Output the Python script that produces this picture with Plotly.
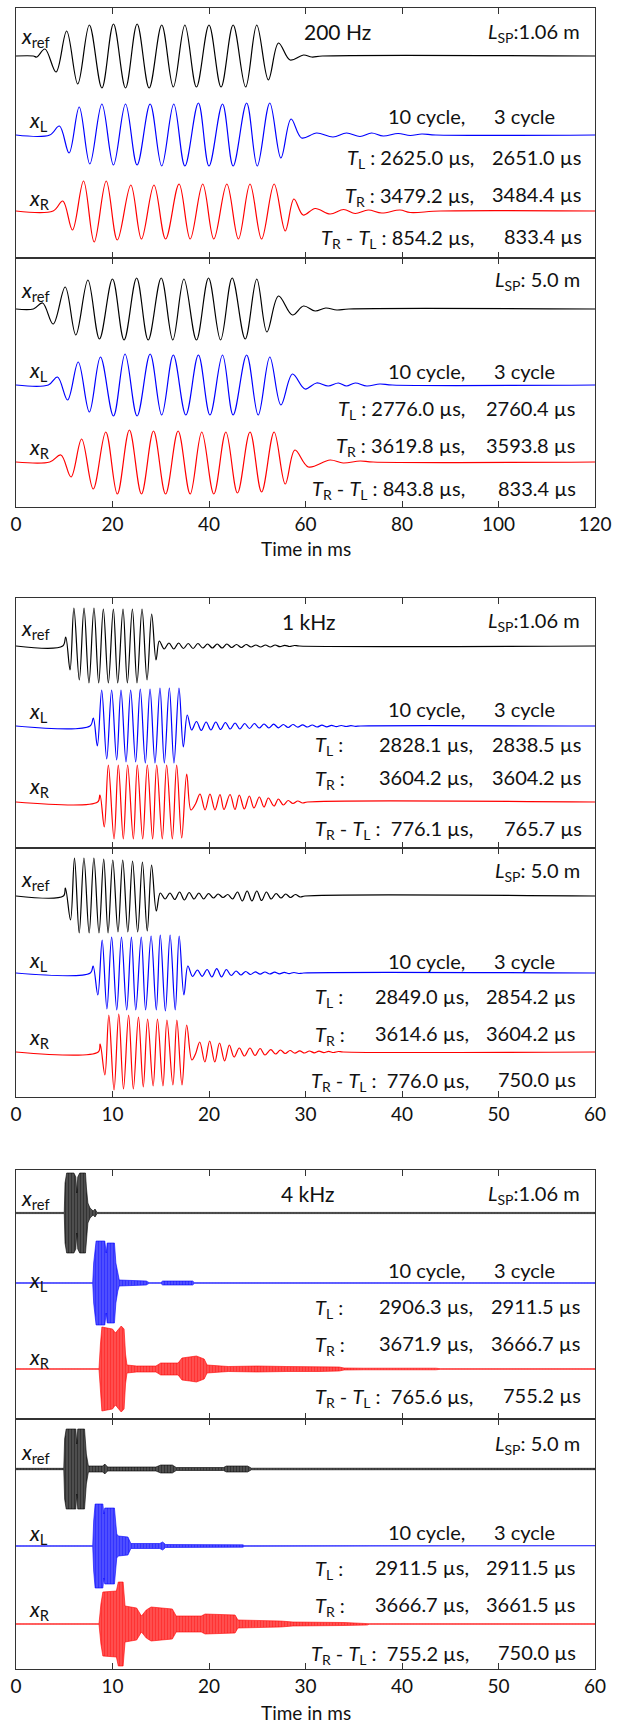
import plotly.graph_objects as go

W, H = 620, 1721
X0, X1 = 16, 595
FONT = "Lato, sans-serif"

# ---------------- data (time in ms, amplitude in a.u.) ----------------
# 200 Hz, L_SP = 1.06 m
P1A_REF_T = [0, 3.6, 4.3, 6.0, 8.3, 10.5, 12.8, 15.2, 17.8, 20.2, 22.7, 25.1, 27.6, 30.2, 32.6, 35.0, 37.4, 40.0, 42.5, 45.0, 47.6, 49.9, 52.3, 54.4, 56.8, 59.6, 61.3, 63.5, 120]
P1A_REF_A = [0, 0, -1, 7, -16, 25, -28, 31, -32, 32, -32, 32, -32, 31, -31, 31, -31, 31, -31, 31, -31, 31, -24, 13, -4, 1, -1, 0, 0]
P1A_L_T = [0, 7.0, 9.0, 11.0, 13.1, 15.3, 17.8, 20.2, 22.7, 25.1, 27.8, 30.2, 32.7, 35.0, 37.8, 40.0, 42.8, 45.0, 47.8, 50.0, 52.6, 54.9, 57.0, 59.2, 62.3, 65.7, 68.5, 71.3, 73.7, 76.1, 79.2, 81.7, 84.1, 87.0, 120]
P1A_L_A = [0, 0, 9, -18, 28, -29, 31, -30, 31, -30, 31, -31, 31, -31, 32, -31, 31, -31, 32, -31, 32, -23, 16, -3, 2, -2, 2, -1.5, 2, -1, 1.5, -0.5, 1, 0, 0]
P1A_R_T = [0, 7.7, 9.7, 11.7, 14.0, 16.2, 18.7, 21.0, 23.8, 26.0, 28.6, 31.0, 33.8, 36.1, 38.7, 41.0, 43.7, 46.1, 48.5, 50.9, 53.5, 55.8, 57.6, 59.5, 62.0, 65.1, 67.9, 70.3, 73.0, 75.8, 79.6, 81.7, 87.9, 120]
P1A_R_A = [0, 0, 10, -19, 30, -31, 30, -29, 26, -28, 26, -28, 27, -28, 27, -28, 27, -28, 27, -28, 27, -20, 12, -4, 2.5, -3, 1.5, -2.5, 1, -2, 1, -1.5, 0, 0]
# 200 Hz, L_SP = 5.0 m
P1B_REF_T = [0, 3.6, 5.5, 7.7, 10.2, 12.4, 14.9, 17.3, 20.0, 22.4, 25.0, 27.4, 30.1, 32.5, 34.8, 37.4, 39.9, 42.4, 44.8, 47.5, 49.9, 52.0, 54.4, 57.3, 59.6, 62.0, 64.2, 66.5, 69.0, 120]
P1B_REF_A = [0, 0, 6, -15, 22, -26, 29, -30, 30, -31, 31, -31, 31, -31, 30, -31, 31, -31, 31, -30, 30, -23, 13, -6, 3, -2, 1, -1, 0, 0]
P1B_L_T = [0, 6.7, 8.6, 10.7, 12.9, 15.2, 17.5, 20.2, 22.6, 25.1, 27.8, 30.2, 32.6, 35.2, 37.8, 40.2, 42.8, 45.0, 47.8, 50.2, 52.6, 54.9, 57.3, 59.9, 62.3, 64.7, 66.8, 68.5, 70.3, 72.7, 75.4, 78.0, 120]
P1B_L_A = [0, 0, 8, -15, 23, -27, 28, -31, 31, -31, 31, -30, 30, -30, 30, -30, 30, -30, 30, -30, 28, -20, 11, -4, 2, -1, 2, -1, 2, -1, 1, 0, 0]
P1B_R_T = [0, 7.0, 9.3, 11.4, 13.6, 16.0, 18.6, 21.0, 23.5, 26.0, 28.5, 31.0, 33.6, 36.1, 38.5, 41.0, 43.5, 45.9, 48.5, 50.9, 53.5, 55.8, 57.8, 60.6, 65.1, 67.8, 71.3, 74.0, 120]
P1B_R_A = [0, 0, 7, -15, 23, -27, 30, -32, 32, -32, 31, -32, 31, -32, 30, -32, 30, -31, 30, -30, 30, -22, 12, -5, 2, -1, 1, 0, 0]

# 1 kHz, L_SP = 1.06 m
P2A_REF_T = [0, 4.84, 5.15, 5.6, 6.0, 6.56, 7.05, 7.56, 8.08, 8.57, 9.05, 9.57, 10.09, 10.54, 11.09, 11.54, 12.06, 12.54, 13.06, 13.58, 14.06, 14.51, 14.85, 15.35, 15.85, 16.35, 16.85, 17.35, 17.85, 18.35, 18.85, 19.35, 19.85, 20.35, 20.85, 21.35, 21.85, 22.35, 22.85, 23.35, 23.85, 24.35, 24.85, 25.35, 25.85, 26.35, 26.85, 27.35, 27.85, 28.35, 28.85, 29.35, 60]
P2A_REF_A = [0, 0, 9, -24, 38, -34, 38, -37, 38, -37, 37, -37, 37, -37, 37, -37, 37, -37, 37, -34, 32, -14, 5, -3, 3, -3, 3, -2.5, 2.5, -2.5, 2.5, -2, 2, -2, 2, -2, 2, -1.5, 1.5, -1.5, 1.5, -1, 1, -1, 1, -1, 1, -0.7, 0.7, -0.5, 0.5, 0, 0]
P2A_L_T = [0, 7.67, 8.01, 8.43, 8.88, 9.40, 9.91, 10.43, 10.88, 11.40, 11.88, 12.40, 12.88, 13.40, 13.89, 14.40, 14.92, 15.37, 15.89, 16.37, 16.89, 17.34, 17.75, 18.20, 18.70, 19.20, 19.70, 20.20, 20.70, 21.20, 21.70, 22.20, 22.70, 23.20, 23.70, 24.20, 24.70, 25.20, 25.70, 26.20, 26.70, 27.20, 27.70, 28.20, 28.70, 29.20, 29.70, 30.20, 30.70, 31.20, 31.70, 32.20, 32.70, 33.20, 33.70, 34.20, 34.70, 35.20, 35.70, 60]
P2A_L_A = [0, 0, 8, -20, 36, -33, 36, -34, 36, -36, 36, -36, 37, -37, 37, -37, 38, -37, 38, -37, 38, -21, 11, -4, 4.5, -4.5, 4, -4, 4, -3.5, 3.5, -3, 3, -3, 2.5, -2.5, 2.5, -2, 2, -2, 1.8, -1.8, 1.5, -1.5, 1.5, -1.2, 1.2, -1, 1, -1, 0.8, -0.8, 0.6, -0.6, 0.5, -0.5, 0.3, -0.3, 0, 0]
P2A_R_T = [0, 8.46, 8.70, 9.15, 9.57, 10.16, 10.60, 11.12, 11.57, 12.16, 12.57, 13.13, 13.61, 14.16, 14.58, 15.16, 15.61, 16.20, 16.65, 17.17, 17.69, 18.13, 18.60, 19.07, 19.59, 20.10, 20.62, 21.14, 21.55, 22.18, 22.69, 23.14, 23.66, 24.18, 24.66, 25.22, 25.70, 26.15, 26.74, 27.19, 27.70, 28.20, 28.70, 29.20, 29.70, 30.20, 60]
P2A_R_A = [0, 0, 7, -25, 37, -37, 37, -37, 37, -37, 37, -37, 37, -37, 37, -37, 37, -37, 37, -36, 28, -8, -2, 8, -8, 8, -8, 7.5, -7.5, 7.5, -7.5, 7, -7, 6, -6, 5, -5, 4, -4, 3, -3, 1.5, -1.5, 1, -1, 0, 0]
# 1 kHz, L_SP = 5.0 m
P2B_REF_T = [0, 4.91, 5.12, 5.65, 6.06, 6.55, 7.04, 7.58, 8.07, 8.60, 9.09, 9.54, 10.03, 10.57, 11.06, 11.59, 12.08, 12.61, 13.10, 13.60, 14.05, 14.54, 14.95, 15.45, 15.95, 16.45, 16.95, 17.45, 17.95, 18.45, 18.95, 19.45, 19.95, 20.45, 20.95, 21.45, 21.95, 22.45, 22.95, 23.45, 23.95, 24.45, 24.95, 25.45, 25.95, 26.45, 26.95, 27.45, 27.95, 28.45, 28.95, 29.45, 29.95, 60]
P2B_REF_A = [0, 0, 8, -24, 38, -37, 38, -37, 38, -37, 37, -37, 36, -36, 36, -36, 35, -36, 34, -35, 31, -15, 3, -3, 3, -3.5, 4, -4, 3.5, -3, 3, -3, 2.5, -2, 2, -1.5, 1.5, -3, 4, -5, 5, -5, 5, -4.5, 4, -3, 2.5, -2, 2, -1.5, 1.5, -1, 0, 0]
P2B_L_T = [0, 7.70, 7.99, 8.48, 8.93, 9.42, 9.91, 10.44, 10.93, 11.47, 11.96, 12.41, 12.98, 13.43, 14.00, 14.54, 14.95, 15.48, 15.97, 16.50, 16.91, 17.40, 17.81, 18.30, 18.80, 19.30, 19.80, 20.30, 20.80, 21.30, 21.80, 22.30, 22.80, 23.30, 23.80, 24.30, 24.80, 25.30, 25.80, 26.30, 26.80, 27.30, 27.80, 28.30, 28.80, 29.30, 29.80, 60]
P2B_L_A = [0, 0, 7, -22, 33, -36, 36, -37, 36, -37, 36, -37, 36, -37, 37, -37, 38, -38, 38, -37, 37, -22, 7, -3.5, 3, -3.3, 3.5, -4, 4.3, -4, 3.5, -2.5, 2, -2, 1.5, -1.5, 1.2, -1.2, 1, -1, 0.8, -0.8, 0.6, -0.6, 0.5, -0.5, 0, 0]
P2B_R_T = [0, 8.52, 8.72, 9.21, 9.62, 10.16, 10.65, 11.14, 11.67, 12.16, 12.69, 13.19, 13.64, 14.21, 14.66, 15.23, 15.64, 16.26, 16.67, 17.20, 17.69, 18.22, 18.60, 19.04, 19.57, 20.07, 20.60, 21.09, 21.62, 22.11, 22.60, 23.14, 23.67, 24.24, 24.77, 25.30, 25.80, 26.40, 26.90, 27.40, 27.90, 28.40, 28.90, 29.40, 29.90, 30.40, 30.90, 31.40, 31.90, 32.40, 32.90, 33.40, 33.90, 60]
P2B_R_A = [0, 0, 8, -23, 37, -38, 38, -37, 37, -37, 35, -35, 33, -34, 33, -34, 32, -33, 32, -33, 27, -8, -2, 10, -10, 11, -10, 9, -9, 7, -5, 4, -4, 4, -3.5, 3.5, -3, 2.3, -2, 2, -1.5, 1.5, -1.2, 1.2, -1, 1, -0.8, 0.8, -0.6, 0.6, -0.5, 0.5, 0, 0]

# 4 kHz: envelopes (time, half-amplitude) of the dense bursts
P3A_REF_T = [0, 5.0, 5.08, 5.25, 6.0, 6.2, 6.3, 6.4, 6.6, 7.2, 7.3, 7.45, 7.67, 8.0, 8.19, 8.4, 60]
P3A_REF_E = [0.6, 0.6, 30, 40, 40, 36, 20, 36, 40, 40, 25, 10, 5, 2, 4, 0.6, 0.6]
P3A_L_T = [0, 7.95, 8.05, 8.3, 9.2, 9.35, 9.45, 10.2, 10.35, 10.55, 10.7, 13.5, 13.8, 15.0, 15.2, 18.3, 18.5, 60]
P3A_L_E = [0.3, 0.3, 20, 42, 42, 30, 40, 40, 20, 8, 3, 2, 0.3, 0.3, 2, 2, 0.3, 0.3]
P3A_R_T = [0, 8.6, 8.75, 8.9, 10.0, 10.3, 10.9, 11.2, 11.35, 11.5, 12.5, 14.5, 15.0, 16.8, 17.2, 18.0, 18.7, 19.5, 19.8, 22.0, 25.0, 28.0, 31.5, 33.5, 34.0, 36.0, 43.5, 44.0, 60]
P3A_R_E = [0.3, 0.3, 25, 42, 40, 36, 43, 40, 15, 4, 3, 3, 6, 6, 11, 12, 13, 10, 4, 2.5, 3, 2.5, 2.5, 2, 1, 0.8, 0.8, 0.3, 0.3]
P3B_REF_T = [0, 4.95, 5.04, 5.2, 6.2, 6.3, 6.4, 7.1, 7.29, 7.5, 9.0, 9.2, 9.5, 14.5, 15.0, 16.2, 16.6, 21.5, 21.8, 24.0, 24.4, 60]
P3B_REF_E = [0.7, 0.7, 30, 40, 40, 25, 40, 40, 15, 3, 3, 5, 2, 2, 4, 4, 1.5, 1.5, 3, 3, 0.8, 0.7]
P3B_L_T = [0, 7.95, 8.05, 8.2, 9.0, 9.1, 9.2, 10.2, 10.44, 10.6, 11.6, 11.9, 14.9, 15.2, 15.5, 20.5, 21.3, 23.5, 23.7, 60]
P3B_L_E = [0.3, 0.3, 25, 42, 42, 32, 38, 38, 12, 10, 9, 2.5, 2.5, 4, 1.5, 1.5, 1.2, 1.2, 0.3, 0.3]
P3B_R_T = [0, 8.6, 8.8, 9.0, 10.4, 10.6, 11.1, 11.3, 12.5, 13.0, 13.5, 14.0, 16.2, 16.6, 19.2, 19.6, 22.7, 23.0, 27.4, 28.7, 34.0, 36.4, 36.6, 60]
P3B_R_E = [0.3, 0.3, 20, 32, 33, 42, 42, 18, 16, 8, 14, 17, 15, 8, 8, 10, 9, 4, 3, 2, 1.5, 1, 0.3, 0.3]

# texts
FREQ_LABELS = ["200 Hz", "1 kHz", "4 kHz"]
LSP_LABELS = ["<i>L</i><sub>SP</sub>:1.06 m", "<i>L</i><sub>SP</sub>: 5.0 m"]
TL_VALUES = [("2625.0 µs,", "2651.0 µs"), ("2776.0 µs,", "2760.4 µs"),
             ("2828.1 µs,", "2838.5 µs"), ("2849.0 µs,", "2854.2 µs"),
             ("2906.3 µs,", "2911.5 µs"), ("2911.5 µs,", "2911.5 µs")]
TR_VALUES = [("3479.2 µs,", "3484.4 µs"), ("3619.8 µs,", "3593.8 µs"),
             ("3604.2 µs,", "3604.2 µs"), ("3614.6 µs,", "3604.2 µs"),
             ("3671.9 µs,", "3666.7 µs"), ("3666.7 µs,", "3661.5 µs")]
DT_VALUES = [("854.2 µs,", "833.4 µs"), ("843.8 µs,", "833.4 µs"),
             ("776.1 µs,", "765.7 µs"), ("776.0 µs,", "750.0 µs"),
             ("765.6 µs,", "755.2 µs"), ("755.2 µs,", "750.0 µs")]

# ---------------- layout of the six boxes ----------------
BOXES = [
    dict(top=8, bot=258, xmax=120, dtick=20, labels=False, offs=(48, 127, 203)),
    dict(top=258, bot=507, xmax=120, dtick=20, labels=True, offs=(51, 127, 204)),
    dict(top=598, bot=848, xmax=60, dtick=10, labels=False, offs=(48, 128, 204)),
    dict(top=848, bot=1097, xmax=60, dtick=10, labels=True, offs=(48, 125, 204)),
    dict(top=1170, bot=1419, xmax=60, dtick=10, labels=False, offs=(43, 113, 199)),
    dict(top=1419, bot=1669, xmax=60, dtick=10, labels=True, offs=(50, 127, 205)),
]
SPLINE = [
    [(P1A_REF_T, P1A_REF_A), (P1A_L_T, P1A_L_A), (P1A_R_T, P1A_R_A)],
    [(P1B_REF_T, P1B_REF_A), (P1B_L_T, P1B_L_A), (P1B_R_T, P1B_R_A)],
    [(P2A_REF_T, P2A_REF_A), (P2A_L_T, P2A_L_A), (P2A_R_T, P2A_R_A)],
    [(P2B_REF_T, P2B_REF_A), (P2B_L_T, P2B_L_A), (P2B_R_T, P2B_R_A)],
]
ENVS = [
    [(P3A_REF_T, P3A_REF_E), (P3A_L_T, P3A_L_E), (P3A_R_T, P3A_R_E)],
    [(P3B_REF_T, P3B_REF_E), (P3B_L_T, P3B_L_E), (P3B_R_T, P3B_R_E)],
]
COLORS = ["#000000", "#0000ff", "#ff0000"]
FILLS = ["rgba(0,0,0,0.6)", "rgba(0,0,255,0.6)", "rgba(255,0,0,0.6)"]

fig = go.Figure()
layout = {}
for i, b in enumerate(BOXES):
    n = i + 1
    xa = "xaxis" if n == 1 else f"xaxis{n}"
    ya = "yaxis" if n == 1 else f"yaxis{n}"
    xr = "x" if n == 1 else f"x{n}"
    yr = "y" if n == 1 else f"y{n}"
    h = b["bot"] - b["top"]
    layout[xa] = dict(domain=[X0 / W, X1 / W], range=[0, b["xmax"]], anchor=yr,
                      dtick=b["dtick"], tick0=0, ticks="inside", ticklen=6, tickwidth=1,
                      tickcolor="#333", showline=True, linecolor="#333", linewidth=1,
                      mirror="ticks", showgrid=False, zeroline=False,
                      showticklabels=b["labels"], tickfont=dict(family=FONT, size=19, color="#111"))
    layout[ya] = dict(domain=[1 - b["bot"] / H, 1 - b["top"] / H], range=[-h, 0], anchor=xr,
                      showline=True, linecolor="#333", linewidth=1, mirror=True,
                      showgrid=False, zeroline=False, showticklabels=False, ticks="")
    if i < 4:
        for (t, a), off, c in zip(SPLINE[i], b["offs"], COLORS):
            fig.add_trace(go.Scatter(x=t, y=[v - off for v in a], mode="lines", xaxis=xr, yaxis=yr,
                                     line=dict(color=c, width=1.2, shape="spline", smoothing=1),
                                     hoverinfo="skip", showlegend=False))
    else:
        for (t, e), off, c, fc in zip(ENVS[i - 4], b["offs"], COLORS, FILLS):
            xs = list(t) + list(t)[::-1]
            ys = [v - off for v in e] + [-v - off for v in e][::-1]
            fig.add_trace(go.Scatter(x=xs, y=ys, mode="lines", fill="toself", fillcolor=fc,
                                     fillpattern=dict(shape="|", fgcolor=c, bgcolor=fc,
                                                      size=3, solidity=0.65),
                                     xaxis=xr, yaxis=yr, line=dict(color=c, width=0.6),
                                     hoverinfo="skip", showlegend=False))

anns = []


def ann(text, x, y, anchor="left", size=20):
    anns.append(dict(text=text, x=x / W, y=1 - y / H, xref="paper", yref="paper",
                     xanchor=anchor, yanchor="middle", showarrow=False,
                     font=dict(family=FONT, size=size, color="#111")))


NB = "\u00a0"
TL = "<i>T</i><sub>L</sub>"
TR = "<i>T</i><sub>R</sub>"
# label / text positions per box (px)
LBL_Y = [(37, 121, 199), (291, 371, 448), (629, 712, 787), (880, 961, 1038), (1199, 1281, 1358), (1453, 1534, 1610)]
CYC_Y = [116, 371, 709, 961, 1270, 1532]
TL_Y = [157, 408, 744, 996, 1306, 1567]
TR_Y = [194, 445, 777, 1033, 1343, 1604]
DT_Y = [236, 488, 828, 1079, 1395, 1652]
LSP_Y = [31, 279, 620, 870, 1192, 1442]
FREQ_Y = [32, 622, 1193]
FREQ_X = [302, 280, 279]
COL1 = [476, 467, 475, 471, 475, 471]
COL2 = [584, 578, 584, 578, 583, 578]

for i in range(6):
    ly = LBL_Y[i]
    ann("<i>x</i><sub>ref</sub>", 19, ly[0], size=21)
    ann("<i>x</i><sub>L</sub>", 27, ly[1], size=21)
    ann("<i>x</i><sub>R</sub>", 27, ly[2], size=21)
    ann(LSP_LABELS[i % 2], 582, LSP_Y[i] + 2, "right")
    ann("10 cycle,", 386, CYC_Y[i])
    ann("3 cycle", 492, CYC_Y[i])
    if i < 2:
        ann(TL + " : " + TL_VALUES[i][0], COL1[i], TL_Y[i] + 2, "right")
        ann(TR + " : " + TR_VALUES[i][0], COL1[i], TR_Y[i] + 2, "right")
        ann(TR + " - " + TL + " : " + DT_VALUES[i][0], COL1[i], DT_Y[i] + 2, "right")
    else:
        ann(TL + " :", 313, TL_Y[i] + 2)
        ann(TL_VALUES[i][0], COL1[i], TL_Y[i], "right")
        ann(TR + " :", 313, TR_Y[i] + 2)
        ann(TR_VALUES[i][0], COL1[i], TR_Y[i], "right")
        ann(TR + " - " + TL + " :" + NB + NB + DT_VALUES[i][0], COL1[i], DT_Y[i] + 2, "right")
    ann(TL_VALUES[i][1], COL2[i], TL_Y[i], "right")
    ann(TR_VALUES[i][1], COL2[i], TR_Y[i], "right")
    ann(DT_VALUES[i][1], COL2[i], DT_Y[i], "right")

for k in range(3):
    ann(FREQ_LABELS[k], FREQ_X[k], FREQ_Y[k], size=21)

ann("Time in ms", (X0 + X1) / 2, 548, "center", 19)
ann("Time in ms", (X0 + X1) / 2, 1712, "center", 19)

fig.update_layout(width=W, height=H, margin=dict(l=0, r=0, t=0, b=0, autoexpand=False),
                  paper_bgcolor="white", plot_bgcolor="white",
                  font=dict(family=FONT, size=19, color="#111"),
                  annotations=anns, **layout)
fig.write_html("out.html", config={"displayModeBar": False},
               post_script="document.body.style.margin='0';document.body.style.padding='0';"
                           "document.body.style.overflow='hidden';"
                           "document.documentElement.style.overflow='hidden';")
